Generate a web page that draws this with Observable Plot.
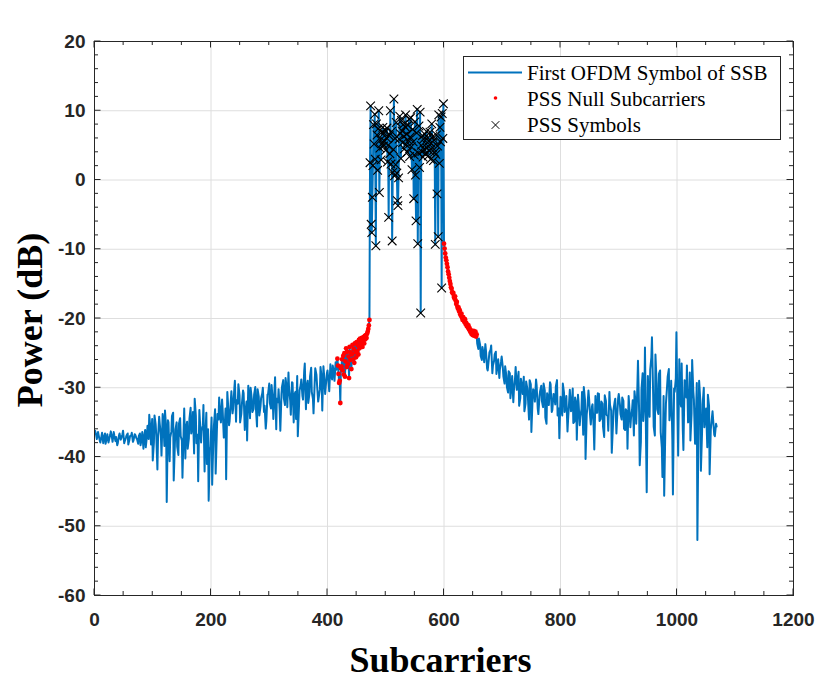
<!DOCTYPE html>
<html><head><meta charset="utf-8">
<script src="https://cdn.jsdelivr.net/npm/d3@7"></script>
<script src="https://cdn.jsdelivr.net/npm/@observablehq/plot@0.6"></script>
<style>
body{margin:0;background:#fff;}
#wrap{position:relative;width:831px;height:695px;}
#legend{position:absolute;left:463px;top:56px;}
</style></head><body><div id="wrap"></div>
<script>
// ---- data ----
// out-of-band, left: subcarriers 1,4,7..415
const leftStart = 1, leftStep = 3;
const leftValues = [
 -36.2,-37.4,-36.8,-37.9,-36.5,-37.2,-38.1,-36.7,-37.5,-36.3,-37.8,-36.9,-37.1,-38.0,-36.6,-37.3,-36.2,-37.7,-36.9,-38.2,-37.0,-36.5,-37.6,-36.8,-37.4,
 -37.0,-38.3,-36.4,-37.2,-38.6,
 -35.5,-33.9,-38.2,-40.5,-34.0,-36.8,-37.5,-35.2,-39.8,-34.5,-33.3,-46.5,-35.0,-37.2,-34.1,-43.4,-36.0,-38.5,-35.2,-37.0,-43.0,-33.0,-35.8,-38.8,-34.5,-36.6,-33.5,-31.6,-38.0,-43.5,-34.8,-36.2,-32.5,-37.5,-41.0,-46.3,-38.5,-44.0,-35.5,-42.4,-33.8,
 -31.4,-35.0,-33.2,-36.5,-43.2,-32.0,-34.8,-30.5,-33.0,-29.0,-31.8,-29.5,-35.0,-32.4,-30.8,-33.6,-37.6,-31.2,-30.0,-33.5,-31.0,-32.8,-30.2,-34.0,-31.5,-30.0,-32.6,-34.8,-30.9,-32.2,-29.6,-34.5,-28.5,-31.6,
 -30.2,-36.2,-29.8,-31.5,-28.6,-32.8,-30.1,-33.9,-29.3,-31.0,-34.5,-37.0,-30.4,-28.8,-31.7,-26.5,-30.0,-32.2,-28.4,-30.6,-33.7,-27.2,-29.5,-31.4,-27.0,-33.3,-28.0,-29.8,-27.5,-30.5,-28.2,-26.8,-29.0,-27.4
];
// out-of-band, left: subcarriers 3,6,9..414
const leftBStart = 3, leftBStep = 3;
const leftBValues = [
 -36.9,-36.4,-37.6,-37.0,-38.0,-36.6,-37.3,-37.9,-36.8,-37.2,-36.4,-37.7,-38.3,-36.9,-37.5,-36.7,-38.0,-37.2,-36.6,-37.5,-36.9,-37.8,-36.7,-37.3,-38.1,
 -36.6,-37.4,-38.8,-36.1,-37.0,
 -37.4,-36.0,-34.5,-37.9,-35.3,-41.8,-34.2,-36.9,-33.8,-38.4,-35.9,-34.7,-40.6,-36.3,-33.6,-38.1,-35.0,-39.7,-34.4,-37.6,-36.2,-40.2,-34.9,-37.3,-32.9,-35.7,-39.5,-34.0,-36.8,-33.2,-37.9,-35.4,-42.1,-33.6,-36.0,-39.0,-34.3,-37.7,-33.1,-36.5,-34.6,
 -34.1,-31.7,-37.2,-33.0,-30.6,-35.4,-31.9,-33.7,-30.2,-34.9,-32.3,-31.1,-33.8,-30.4,-36.1,-32.0,-29.7,-34.4,-31.6,-33.1,-29.9,-35.6,-31.3,-32.7,-30.8,-33.5,-35.9,-31.0,-29.4,-33.0,-31.8,-30.3,-36.0,-32.1,
 -33.4,-30.9,-28.9,-32.5,-30.0,-27.8,-31.9,-29.2,-35.0,-30.6,-28.3,-32.9,-29.6,-31.2,-27.6,-33.1,-29.0,-30.8,-27.1,-31.6,-29.3,-28.1,-32.0,-30.2,-28.6,-26.9,-30.9,-27.9,-29.4,-26.6,-28.8,-27.7,-26.3
];
// PSS null subcarriers, left (417..472)
const nullLeftStart = 417;
const nullLeftValues = [
 -25.8,-26.8,-28.0,-29.3,-29.0,-32.2,-27.2,-26.9,-25.9,-27.5,-25.4,-28.1,-25.0,-28.4,-26.2,-24.3,-27.0,-24.8,-26.6,-25.5,-28.6,-24.1,-26.0,-24.9,-27.3,-25.2,-23.8,-25.9,
 -24.4,-26.4,-23.6,-24.9,-25.6,-23.4,-24.7,-23.9,-25.2,-23.1,-24.3,-22.9,-24.0,-23.5,-22.8,-24.1,-23.2,-22.7,-23.6,-22.5,-23.0,-22.4,-22.8,-22.2,-21.9,-21.5,-21.0,-20.2
];
// PSS symbols (473..599)
const pssStart = 473;
const pssValues = [
 2.5,10.7,-6.4,-7.6,-2.5,2.1,8.0,5.2,9.5,3.0,-9.5,8.1,6.5,1.4,7.4,10.0,-1.8,4.6,5.8,2.9,6.9,5.3,7.6,4.9,6.8,5.6,7.2,4.3,6.1,7.5,2.6,5.0,
 -5.4,6.4,3.8,10.0,2.3,7.0,-8.8,1.1,4.4,11.7,0.6,6.0,2.2,8.3,1.0,-3.0,-3.7,0.3,5.9,9.2,6.7,3.1,8.6,7.1,5.4,8.0,6.3,4.5,7.7,9.4,5.1,6.6,
 4.0,7.9,5.7,8.8,3.4,6.2,9.0,4.8,1.5,7.3,5.5,-2.7,3.6,8.4,0.7,-5.9,6.8,10.2,-9.2,3.9,7.8,1.8,9.8,-19.2,5.0,4.1,6.4,3.3,5.9,4.4,6.6,3.8,
 5.2,7.0,4.6,6.1,3.5,5.6,4.2,6.9,3.0,5.3,8.1,4.7,6.3,2.8,5.8,4.0,-9.3,3.7,6.5,-2.0,4.9,-8.2,9.4,2.4,7.6,5.5,9.1,-15.6,9.6,6.0,11.0
];
// PSS null subcarriers, right (600..656)
const nullRightStart = 600;
const nullRightValues = [
 -9.2,-9.9,-10.6,-11.2,-11.6,-12.1,-12.6,-13.2,-13.6,-14.1,-14.6,-15.0,-15.5,-15.7,-16.2,-16.4,-16.3,-16.9,-17.1,-16.8,-17.4,-17.9,-17.6,-18.3,-18.6,-18.4,-19.0,-18.8,
 -19.4,-19.6,-19.3,-19.9,-20.2,-19.8,-20.3,-20.5,-20.1,-20.8,-20.6,-21.1,-20.9,-21.3,-21.0,-21.6,-21.4,-21.9,-21.7,-22.2,-21.9,-22.4,-22.0,-21.8,-22.5,-22.2,-21.9,-22.6,-22.3
];
// out-of-band, right: subcarriers 657,660..1068
const rightStart = 657, rightStep = 3;
const rightValues = [
 -23.6,-22.9,-25.4,-24.1,-26.3,-24.6,-27.5,-24.9,-23.9,-26.8,-25.2,-28.0,-25.9,-27.3,-25.5,
 -28.4,-26.9,-29.9,-27.6,-31.5,-28.3,-30.4,-27.0,-29.2,-32.6,-28.7,-30.9,-33.4,-29.1,-31.3,-28.9,-36.4,-30.2,-32.0,-29.6,-33.8,-30.5,-31.9,-29.4,-34.3,-30.8,-32.5,-29.5,-33.2,-31.0,-29.8,-34.0,-37.3,
 -32.8,-29.4,-33.5,-31.2,-34.6,-30.3,-32.9,-35.1,-31.4,-37.5,-32.1,-34.2,-30.6,-29.9,-40.3,-33.0,-31.5,-35.3,-32.4,-38.9,-33.6,-30.8,-34.8,-32.0,-35.6,-31.1,-33.9,-36.2,-32.5,-39.4,-33.2,-31.6,-34.7,-30.9,
 -33.8,-31.4,-35.9,-33.1,-38.8,-32.6,-34.4,-31.8,-30.5,-35.2,
 -26.1,-41.2,-30.3,-34.8,-24.2,-45.1,-31.0,-27.4,-22.7,-35.6,-25.2,-33.1,-28.0,-36.4,-42.9,-45.6,-32.3,-28.4,-34.7,-29.0,-45.4,-30.6,-22.0,-39.8,-31.5,-26.5,-39.0,-30.2,
 -26.8,-34.9,-37.6,-26.0,-31.7,-35.8,-52.0,-29.0,-42.0,-32.4,-35.7,-33.0,-31.0,-42.5,-35.1,-34.6,-37.0,-35.6
];
// out-of-band, right: subcarriers 659,662..1067
const rightBStart = 659, rightBStep = 3;
const rightBValues = [
 -24.4,-23.8,-26.0,-25.1,-23.7,-27.2,-25.8,-24.5,-27.9,-26.1,-24.8,-26.7,-28.6,-26.2,
 -27.1,-29.4,-28.2,-30.7,-27.9,-29.8,-32.1,-28.6,-30.3,-27.7,-31.5,-29.9,-28.4,-32.3,-30.1,-34.6,-29.5,-31.8,-30.6,-28.8,-33.1,-31.2,-29.7,-32.8,-30.4,-35.2,-31.6,-29.2,-33.5,-30.9,-32.4,-28.9,-33.0,
 -31.3,-34.0,-30.7,-32.6,-36.3,-31.8,-33.4,-30.1,-34.9,-32.2,-31.0,-35.4,-33.1,-36.8,-31.7,-33.9,-30.4,-34.3,-32.7,-35.8,-31.2,-33.6,-30.9,-34.5,-32.3,-37.1,-31.9,-34.1,-30.6,-33.3,-35.5,-32.0,-36.6,-31.5,
 -32.4,-34.6,-31.9,-36.1,-33.5,-31.2,-35.7,-33.0,-36.9,-32.2,
 -29.7,-33.5,-37.8,-27.9,-31.6,-38.5,-28.3,-34.2,-25.6,-30.7,-36.9,-29.4,-33.8,-27.5,-38.7,-31.2,-35.9,-29.8,-27.3,-33.0,-37.4,-30.1,-28.6,-34.6,-25.9,-32.7,-36.2,-28.9,
 -31.4,-35.0,-27.8,-33.7,-30.5,-38.1,-29.3,-34.4,-31.8,-36.5,-30.0,-33.9,-38.6,-32.6,-36.0,-33.4,-36.8,-35.2
];
const xTickValues = [0,200,400,600,800,1000,1200];
const yTickValues = [-60,-50,-40,-30,-20,-10,0,10,20];
const xLabel = "Subcarriers", yLabel = "Power (dB)";
const legendLabels = ["First OFDM Symbol of SSB","PSS Null Subcarriers","PSS Symbols"];

// ---- tables ----
const toRows = (vals, start, step) => vals.map((y, i) => ({x: start + i * step, y}));
const nlRows = toRows(nullLeftValues, nullLeftStart, 1);
const pssRows = toRows(pssValues, pssStart, 1);
const nrRows = toRows(nullRightValues, nullRightStart, 1);
const lineRows = [
  ...toRows(leftValues, leftStart, leftStep),
  ...toRows(leftBValues, leftBStart, leftBStep),
  ...nlRows, ...pssRows, ...nrRows,
  ...toRows(rightValues, rightStart, rightStep),
  ...toRows(rightBValues, rightBStart, rightBStep)
].sort((a, b) => a.x - b.x);
const nullRows = [...nlRows, ...nrRows];

const W = 831, H = 695;
const sans = "'Liberation Sans', Arial, Helvetica, sans-serif";
const serif = "'Liberation Serif', 'Times New Roman', Times, serif";
const ink = "#262626";
const fmt = d => (d < 0 ? "-" : "") + Math.abs(d);

const plot = Plot.plot({
  width: W, height: H,
  marginLeft: 94, marginRight: 38, marginTop: 41, marginBottom: 100,
  x: {domain: [0, 1200]},
  y: {domain: [-60, 20]},
  style: {background: "white", overflow: "visible"},
  marks: [
    Plot.gridX(xTickValues, {stroke: "#dedede", strokeOpacity: 1, strokeWidth: 1}),
    Plot.gridY(yTickValues, {stroke: "#dedede", strokeOpacity: 1, strokeWidth: 1}),
    Plot.line(lineRows, {x: "x", y: "y", stroke: "#0072BD", strokeWidth: 2, strokeLinejoin: "round"}),
    Plot.dot(nullRows, {x: "x", y: "y", r: 2.4, fill: "#ff0000", stroke: null}),
    Plot.dot(pssRows, {x: "x", y: "y", symbol: "times", r: 4, stroke: "#000", strokeWidth: 1.1}),
    Plot.frame({stroke: ink, strokeWidth: 1}),
    Plot.axisX(xTickValues, {tickSize: 0, tickPadding: 17, tickFormat: fmt, fontSize: 19, fontWeight: "bold", fontFamily: sans, fill: ink, label: null}),
    Plot.axisY(yTickValues, {tickSize: 0, tickPadding: 9, tickFormat: fmt, fontSize: 19, fontWeight: "bold", fontFamily: sans, fill: ink, label: null})
  ]
});
document.getElementById("wrap").appendChild(plot);

// inward ticks on all four sides (MATLAB box style) via Plot's scales
const sx = plot.scale("x"), sy = plot.scale("y");
const svg = d3.select(plot);
const g = svg.append("g").attr("stroke", ink).attr("stroke-width", 1);
const xL = sx.apply(0), xR = sx.apply(1200), yB = sy.apply(-60), yT = sy.apply(20);
d3.range(0, 1201, 50).forEach(v => {
  const len = v % 200 === 0 ? 6.5 : 4, p = sx.apply(v);
  g.append("line").attr("x1", p).attr("x2", p).attr("y1", yB).attr("y2", yB - len);
  g.append("line").attr("x1", p).attr("x2", p).attr("y1", yT).attr("y2", yT + len);
});
d3.range(-60, 21, 2).forEach(v => {
  const len = v % 10 === 0 ? 6.5 : 4, p = sy.apply(v);
  g.append("line").attr("y1", p).attr("y2", p).attr("x1", xL).attr("x2", xL + len);
  g.append("line").attr("y1", p).attr("y2", p).attr("x1", xR).attr("x2", xR - len);
});
// axis titles
svg.append("text").attr("x", (xL + xR) / 2 - 3).attr("y", 672).attr("text-anchor", "middle")
  .attr("font-family", serif).attr("font-weight", "bold").attr("font-size", 36).attr("fill", "#000").text(xLabel);
svg.append("text").attr("transform", `translate(42,${(yT + yB) / 2 + 2}) rotate(-90)`).attr("text-anchor", "middle")
  .attr("font-family", serif).attr("font-weight", "bold").attr("font-size", 36).attr("fill", "#000").text(yLabel);

// legend box
const lg = d3.select("#wrap").append("svg").attr("id", "legend").attr("width", 318).attr("height", 84);
lg.append("rect").attr("x", 0.5).attr("y", 0.5).attr("width", 317).attr("height", 83).attr("fill", "white").attr("stroke", ink).attr("stroke-width", 1);
lg.append("line").attr("x1", 5).attr("x2", 59).attr("y1", 16.5).attr("y2", 16.5).attr("stroke", "#0072BD").attr("stroke-width", 2);
lg.append("circle").attr("cx", 32.5).attr("cy", 42).attr("r", 1.8).attr("fill", "#ff0000");
lg.append("path").attr("d", d3.symbol(d3.symbolTimes, 40)()).attr("transform", "translate(32.5,69)").attr("stroke", "#000").attr("stroke-width", 1).attr("fill", "none");
legendLabels.forEach((t, i) => {
  lg.append("text").attr("x", 64).attr("y", 23.5 + i * 26.3).attr("font-family", serif).attr("font-size", 21).attr("fill", "#000").text(t);
});
</script></body></html>
